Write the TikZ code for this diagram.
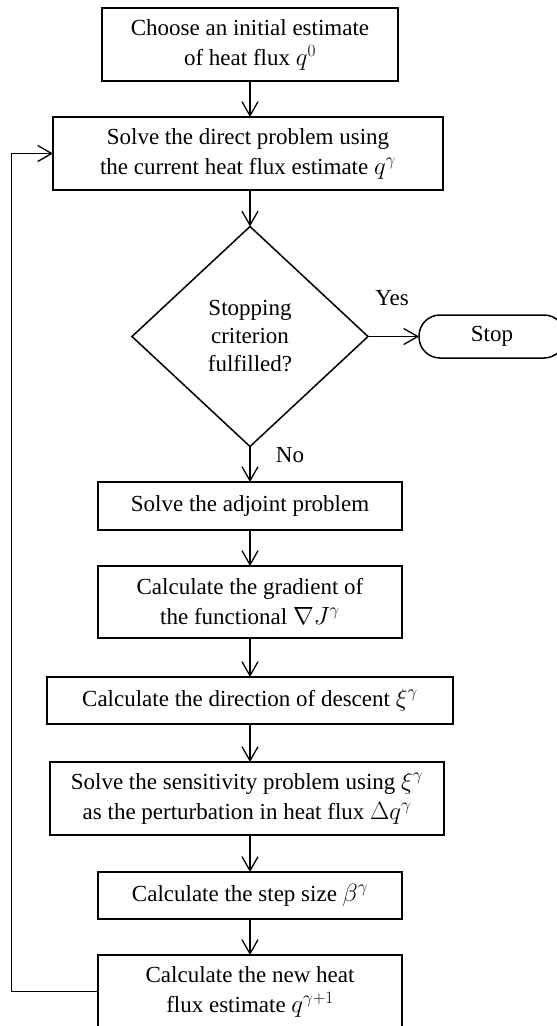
\documentclass[tikz,border=0pt]{standalone}
\usepackage{fontspec}
\setmainfont{Liberation Serif}
\usetikzlibrary{arrows.meta,shapes.geometric}
\begin{document}
\begin{tikzpicture}[x=1pt,y=-1pt,
  every node/.style={inner sep=0pt, outer sep=0pt},
  txt/.style={font=\fontsize{23}{30}\selectfont},
  box/.style={txt, draw, line width=1.5pt, align=center},
  dec/.style={draw, line width=1.5pt, diamond, align=center, minimum width=236pt, minimum height=220pt, font=\fontsize{23}{28}\selectfont},
  term/.style={txt, draw, line width=1.5pt, rounded corners=21pt, minimum width=146pt, minimum height=43pt},
  arr/.style={line width=1.3pt, -{Straight Barb[length=14pt,width=16pt,line width=1.3pt]}},
  conn/.style={line width=1.5pt}
]
\useasboundingbox (0,0) rectangle (557,1026);
\node[box, minimum width=296pt, minimum height=73pt] (b1) at (250,44.5) {Choose an initial estimate\\ of heat flux $q^{0}$};
\node[box, minimum width=390pt, minimum height=73pt] (b2) at (248,153.5) {Solve the direct problem using\\ the current heat flux estimate $q^{\gamma}$};
\node[dec] (d) at (250,336.5) {Stopping\\ criterion\\ fulfilled?};
\node[term] (stop) at (492,336.5) {Stop};
\node[box, minimum width=304pt, minimum height=48pt] (adj) at (250,506) {Solve the adjoint problem};
\node[box, minimum width=304pt, minimum height=72pt] (grad) at (250,602) {Calculate the gradient of\\ the functional $\nabla J^{\gamma}$};
\node[box, minimum width=406pt, minimum height=47pt] (dir) at (250,700.5) {Calculate the direction of descent $\xi^{\gamma}$};
\node[box, minimum width=394pt, minimum height=73pt] (sens) at (247,798.5) {Solve the sensitivity problem using $\xi^{\gamma}$\\ as the perturbation in heat flux $\Delta q^{\gamma}$};
\node[box, minimum width=304pt, minimum height=47pt] (step) at (250,895.5) {Calculate the step size $\beta^{\gamma}$};
\node[box, minimum width=304pt, minimum height=73pt] (new) at (250,991.5) {Calculate the new heat\\ flux estimate $q^{\gamma+1}$};
\node[txt] (yes) at (392,298) {Yes};
\node[txt] (no) at (290,455) {No};
\coordinate (lp) at (11.5,991.5);
\draw[arr] (b1.south) -- (b1.south |- b2.north);
\draw[arr] (d.north |- b2.south) -- (d.north);
\draw[arr] (d.east) -- (stop.west);
\draw[arr] (d.south) -- (adj);
\draw[arr] (adj) -- (grad);
\draw[arr] (grad) -- (dir);
\draw[arr] (dir.south) -- (dir.south |- sens.north);
\draw[arr] (step.north |- sens.south) -- (step.north);
\draw[arr] (step) -- (new);
\draw[arr] (new.west) -- (lp) |- (b2.west);
\end{tikzpicture}
\end{document}
